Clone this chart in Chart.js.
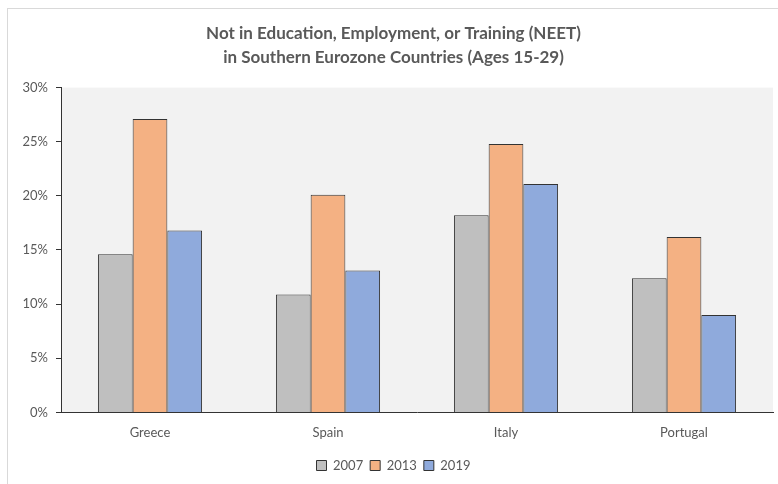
<!DOCTYPE html>
<html>
<head>
<meta charset="utf-8">
<script src="https://cdn.jsdelivr.net/npm/chart.js@4"></script>
<style>
  html, body { margin: 0; padding: 0; background: #fff; overflow: hidden; }
  #frame { position: absolute; left: 7px; top: 8px; width: 790px; height: 500px; border: 1px solid #d9d9d9; }
  #wrap { position: absolute; left: 0; top: 0; width: 778px; height: 484px; }
</style>
</head>
<body>
<div id="frame"></div>
<div id="wrap"><canvas id="neet"></canvas></div>
<script>
const countries = ['Greece', 'Spain', 'Italy', 'Portugal'];
const years = ['2007', '2013', '2019'];
const neet2007 = [14.6, 10.9, 18.2, 12.4];
const neet2013 = [27.1, 20.1, 24.8, 16.2];
const neet2019 = [16.8, 13.1, 21.1, 9.0];
const yTicks = [0, 5, 10, 15, 20, 25, 30];

const fills = ['#bfbfbf', '#f4b183', '#8faadc'];
const fontFam = 'Lato, "Open Sans", sans-serif';
const grey = '#595959';

// light grey backdrop behind the bars
const plotBg = {
  id: 'plotBg',
  beforeDraw(chart) {
    const { ctx, chartArea: a } = chart;
    ctx.save();
    ctx.fillStyle = '#f2f2f2';
    ctx.fillRect(a.left, a.top, a.right - a.left, a.bottom - a.top);
    ctx.restore();
  }
};

new Chart(document.getElementById('neet'), {
  type: 'bar',
  data: {
    labels: countries,
    datasets: [neet2007, neet2013, neet2019].map((vals, i) => ({
      label: years[i],
      data: vals,
      backgroundColor: fills[i],
      borderColor: '#333333',
      borderWidth: 1,
      barPercentage: 1,
      categoryPercentage: 0.585
    }))
  },
  options: {
    responsive: true,
    maintainAspectRatio: false,
    animation: false,
    layout: { padding: { left: 14, right: 5, top: 0, bottom: 2 } },
    plugins: {
      title: {
        display: true,
        text: ['Not in Education, Employment, or Training (NEET)', 'in Southern Eurozone Countries (Ages 15-29)'],
        color: grey,
        font: { family: fontFam, size: 17, weight: 'bold', lineHeight: 1.4 },
        padding: { top: 22, bottom: 18 }
      },
      legend: {
        position: 'bottom',
        labels: {
          color: grey,
          font: { family: fontFam, size: 13 },
          boxWidth: 10,
          boxHeight: 10,
          padding: 7,
          useBorderRadius: false
        }
      },
      tooltip: { enabled: false }
    },
    scales: {
      x: {
        afterFit(scale) { scale.height -= 2; },
        grid: { drawOnChartArea: false, drawTicks: false },
        border: { color: '#333333', width: 1 },
        ticks: { color: grey, font: { family: fontFam, size: 13 }, padding: 13 }
      },
      y: {
        min: 0,
        max: 30,
        afterBuildTicks(scale) { scale.ticks = yTicks.map(v => ({ value: v })); },
        afterFit(scale) { scale.width = 47; },
        grid: { drawOnChartArea: false, drawTicks: true, tickLength: 5, color: '#333333' },
        border: { color: '#333333', width: 1 },
        ticks: {
          color: grey,
          font: { family: fontFam, size: 13 },
          padding: 8,
          callback: v => v + '%'
        }
      }
    }
  },
  plugins: [plotBg]
});
</script>
</body>
</html>
